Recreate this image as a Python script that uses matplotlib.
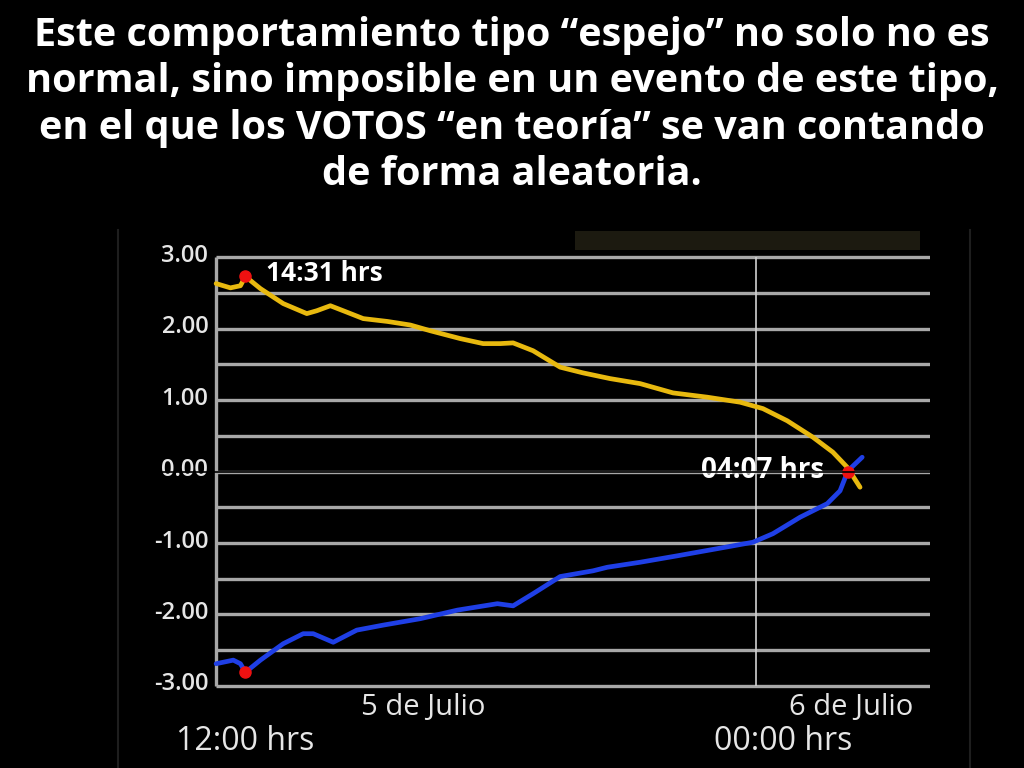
import matplotlib.pyplot as plt
from matplotlib.patches import Rectangle
from matplotlib.lines import Line2D

# ------------------------------------------------------------------
# DATA (x = position along the time axis, 0 = start, 100 = end)
# ------------------------------------------------------------------
yellow_x = [0, 2.0, 3.4, 4.1, 6.2, 9.4, 12.7, 14.1, 16.0, 17.8, 20.6, 24.0,
            27.2, 30.0, 34.2, 37.4, 39.8, 41.6, 44.4, 48.2, 51.4, 55.2, 59.4,
            64.0, 68.8, 73.4, 76.6, 80.0, 83.6, 86.4, 88.4, 90.2]
yellow_y = [2.63, 2.57, 2.60, 2.73, 2.56, 2.35, 2.21, 2.25, 2.32, 2.25, 2.14,
            2.10, 2.05, 1.97, 1.86, 1.79, 1.79, 1.80, 1.69, 1.46, 1.38, 1.30,
            1.23, 1.10, 1.04, 0.97, 0.88, 0.71, 0.48, 0.27, 0.06, -0.22]

blue_x = [0, 2.4, 3.4, 4.1, 6.2, 9.4, 12.2, 13.6, 16.4, 19.7, 23.4, 28.6,
          33.8, 39.4, 41.6, 44.4, 48.2, 52.8, 54.8, 59.4, 64.6, 70.2, 75.2,
          78.0, 81.8, 85.6, 87.4, 88.5, 90.5]
blue_y = [-2.69, -2.64, -2.69, -2.81, -2.64, -2.41, -2.27, -2.27, -2.39,
          -2.22, -2.15, -2.06, -1.94, -1.85, -1.88, -1.71, -1.47, -1.39,
          -1.34, -1.27, -1.18, -1.08, -0.99, -0.87, -0.64, -0.45, -0.27,
          0.01, 0.20]

marker_x = [4.1, 4.1, 88.5]
marker_y = [2.73, -2.81, 0.0]

y_levels = [3.0, 2.5, 2.0, 1.5, 1.0, 0.5, 0.0, -0.5, -1.0, -1.5, -2.0, -2.5, -3.0]
y_ticks = [3.0, 2.0, 1.0, 0.0, -1.0, -2.0, -3.0]
midnight_x = 75.6

title = ("Este comportamiento tipo \u201cespejo\u201d no solo no es\n"
         "normal, sino imposible en un evento de este tipo,\n"
         "en el que los VOTOS \u201cen teor\u00eda\u201d se van contando\n"
         "de forma aleatoria.")

# ------------------------------------------------------------------
# FIGURE
# ------------------------------------------------------------------
plt.rcParams['font.family'] = ['Open Sans', 'DejaVu Sans']
fig = plt.figure(figsize=(10.24, 7.68), dpi=100, facecolor='black')

# faint frame edges and dark strip of the screenshot
fig.add_artist(Line2D([118 / 1024, 118 / 1024], [0, 1 - 230 / 768],
                      color='#1e1e1e', lw=1.5))
fig.add_artist(Line2D([970 / 1024, 970 / 1024], [0, 1 - 230 / 768],
                      color='#1e1e1e', lw=1.5))
fig.add_artist(Rectangle((575 / 1024, 1 - 250 / 768), 345 / 1024, 19 / 768,
                         facecolor='#1c1a10', edgecolor='none'))

fig.text(0.5, 0.979, title, ha='center', va='top', color='white',
         fontsize=28.5, fontweight='bold', linespacing=1.24)

ax = fig.add_axes([209 / 1024, 1 - 693 / 768, 721 / 1024, 443 / 768])
ax.set_facecolor('black')
ax.set_xlim(-1, 100)
ax.set_ylim(-3.1, 3.1)
for s in ax.spines.values():
    s.set_visible(False)
ax.set_xticks([])
ax.set_yticks([])

# grid
ax.hlines(y_levels, 0, 100, color='#a8a8a8', lw=2.4, zorder=1)
ax.vlines(0, -3.0, 3.0, color='#a8a8a8', lw=2.4, zorder=1)
ax.vlines(midnight_x, -3.0, 3.0, color='#d0d0d0', lw=1.2, zorder=1)

# y labels
for v in y_ticks:
    ax.text(-1.1, v + 0.02, '%.2f' % v, ha='right', va='center', color='#e6e6e6',
            fontsize=17, fontweight='semibold')

# series
ax.plot(yellow_x, yellow_y, color='#e8b90f', lw=3.4, solid_capstyle='round',
        solid_joinstyle='round', zorder=3)
ax.plot(blue_x, blue_y, color='#1f3fe6', lw=3.4, solid_capstyle='round',
        solid_joinstyle='round', zorder=3)
ax.plot(marker_x, marker_y, 'o', color='#ee1111', markersize=8, zorder=4)

# annotations
ax.text(7.0, 2.77, '14:31 hrs', ha='left', va='center', color='white',
        fontsize=19, fontweight='bold')
ax.text(85.2, 0.02, '04:07 hrs', ha='right', va='center', color='white',
        fontsize=20, fontweight='bold', zorder=5)

# thin black line across the zero level
fig.add_artist(Line2D([150 / 1024, 960 / 1024], [1 - 472 / 768, 1 - 472 / 768],
                      color='black', lw=1.2, zorder=10))

# x labels
fig.text(423 / 1024, 1 - 708 / 768, '5 de Julio', ha='center', va='center',
         color='#e6e6e6', fontsize=21)
fig.text(245 / 1024, 1 - 742 / 768, '12:00 hrs', ha='center', va='center',
         color='#e6e6e6', fontsize=23)
fig.text(851 / 1024, 1 - 708 / 768, '6 de Julio', ha='center', va='center',
         color='#e6e6e6', fontsize=21)
fig.text(783 / 1024, 1 - 742 / 768, '00:00 hrs', ha='center', va='center',
         color='#e6e6e6', fontsize=23)

plt.savefig('out.png', dpi=100, facecolor='black')
